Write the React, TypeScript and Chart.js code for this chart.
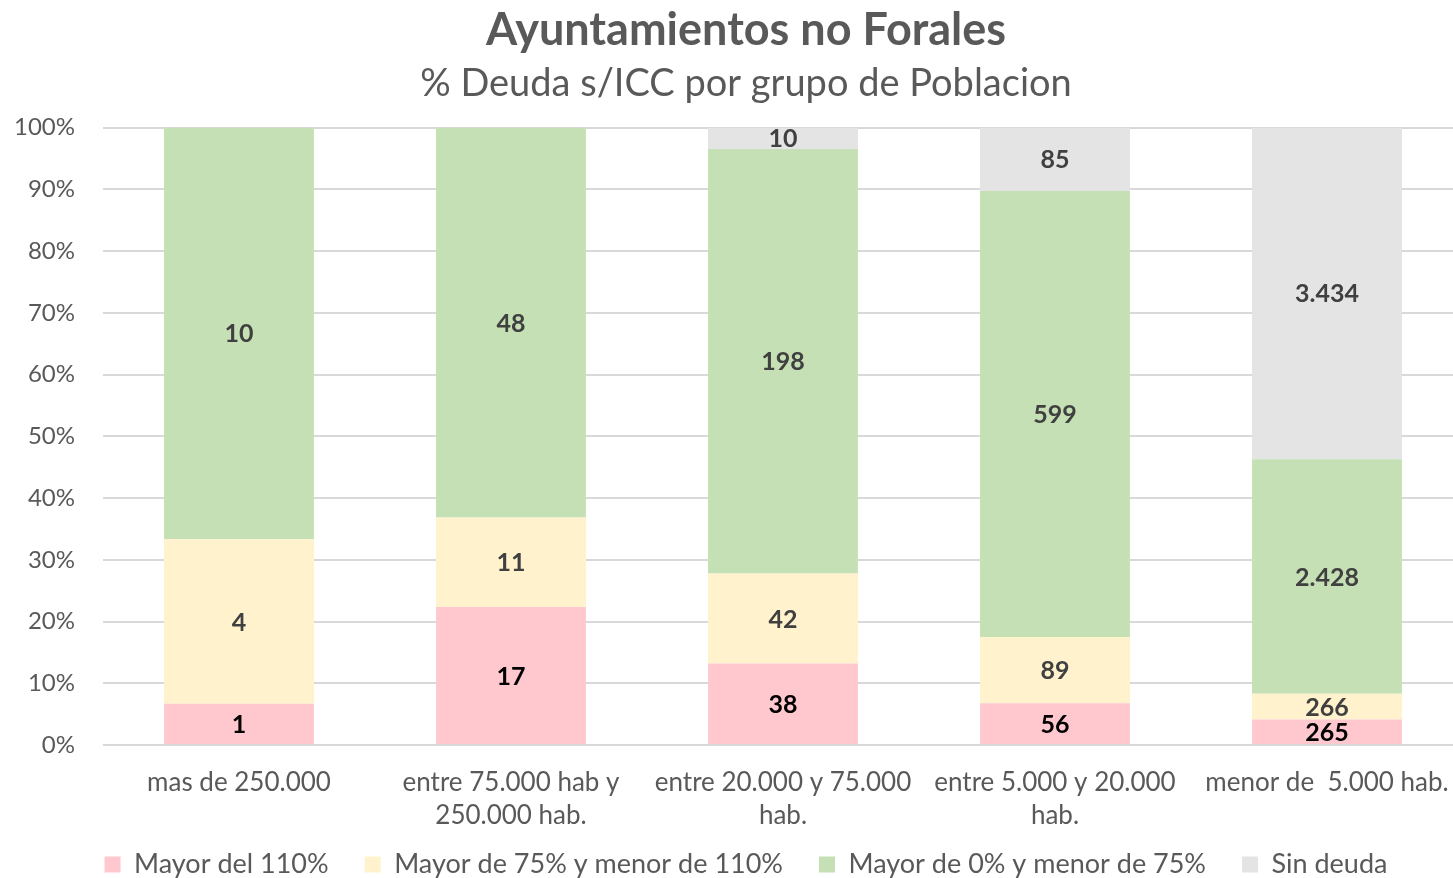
import React, { useEffect, useRef } from "react";
import { Chart, registerables } from "chart.js";

Chart.register(...registerables);

const categories: string[][] = [
  ["mas de 250.000"],
  ["entre 75.000 hab y", "250.000 hab."],
  ["entre 20.000 y 75.000", "hab."],
  ["entre 5.000 y 20.000", "hab."],
  ["menor de  5.000 hab."],
];
const seriesNames = [
  "Mayor del 110%",
  "Mayor de 75% y menor de 110%",
  "Mayor de 0% y menor de 75%",
  "Sin deuda",
];
const mayor110 = [1, 17, 38, 56, 265];
const mayor75 = [4, 11, 42, 89, 266];
const mayor0 = [10, 48, 198, 599, 2428];
const sinDeuda = [0, 0, 10, 85, 3434];
const seriesValues = [mayor110, mayor75, mayor0, sinDeuda];
const seriesColors = ["#FFC7CE", "#FFF2CC", "#C5E0B4", "#E4E4E4"];
const labelColors = ["#000000", "#404040", "#404040", "#404040"];
const yTickMax = 100;
const yTickStep = 10;

const FONT = "Lato, 'Open Sans', sans-serif";

const totals = categories.map((_, i) =>
  seriesValues.reduce((s, arr) => s + arr[i], 0)
);

const fmt = (v: number) =>
  String(v).replace(/\B(?=(\d{3})+(?!\d))/g, ".");

const valueLabels = {
  id: "valueLabels",
  afterDatasetsDraw(chart: any) {
    const ctx = chart.ctx;
    ctx.save();
    ctx.textAlign = "center";
    ctx.textBaseline = "middle";
    ctx.font = `bold 25px ${FONT}`;
    chart.data.datasets.forEach((ds: any, di: number) => {
      const meta = chart.getDatasetMeta(di);
      meta.data.forEach((el: any, i: number) => {
        const raw = ds.raw[i];
        if (!raw) return;
        const cy = (el.y + el.base) / 2;
        ctx.fillStyle = labelColors[di];
        ctx.fillText(fmt(raw), el.x, cy + 1);
      });
    });
    ctx.restore();
  },
};

// let axis labels draw outside their compact boxes (no clipping)
const extendLabelAreas = {
  id: "extendLabelAreas",
  afterLayout(chart: any) {
    const x = chart.scales.x;
    if (x) x.bottom = chart.height;
    const y = chart.scales.y;
    if (y) y.left = 0;
  },
};

export default function App() {
  const ref = useRef<HTMLCanvasElement>(null);
  useEffect(() => {
    if (!ref.current) return;
    const chart = new Chart(ref.current, {
      type: "bar",
      data: {
        labels: categories,
        datasets: seriesValues.map((arr, di) => ({
          label: seriesNames[di],
          data: arr.map((v, i) => (v / totals[i]) * 100),
          raw: arr,
          backgroundColor: seriesColors[di],
          borderWidth: 0,
          categoryPercentage: 1,
          barPercentage: 0.551,
        })) as any,
      },
      options: {
        responsive: false,
        animation: false,
        layout: { padding: { left: 29, right: 23, top: 0, bottom: -10 } },
        scales: {
          x: {
            stacked: true,
            grid: { display: false },
            border: { display: false },
            ticks: {
              color: "#595959",
              font: { family: FONT, size: 26, lineHeight: 1.27 },
              padding: 13,
              maxRotation: 0,
              autoSkip: false,
            },
            afterFit: (scale: any) => {
              scale.height = 70;
            },
          },
          y: {
            stacked: true,
            min: 0,
            max: yTickMax,
            ticks: {
              stepSize: yTickStep,
              color: "#595959",
              font: { family: FONT, size: 24 },
              padding: 28,
              callback: (v: any) => v + "%",
            },
            grid: { color: "#D9D9D9", lineWidth: 2, drawTicks: false },
            border: { display: false },
            afterFit: (scale: any) => {
              scale.width = 74;
            },
          },
        },
        plugins: {
          title: {
            display: true,
            text: "Ayuntamientos no Forales",
            color: "#595959",
            font: { family: FONT, size: 45, weight: "bold" },
            padding: { top: 3, bottom: 4 },
          },
          subtitle: {
            display: true,
            text: "% Deuda s/ICC por grupo de Poblacion",
            color: "#595959",
            font: { family: FONT, size: 38 },
            padding: { top: 0, bottom: 21 },
          },
          legend: {
            position: "bottom",
            labels: {
              color: "#595959",
              font: { family: FONT, size: 27 },
              boxWidth: 16,
              boxHeight: 16,
              padding: 36,
            },
          },
          tooltip: { enabled: false },
        },
      },
      plugins: [valueLabels, extendLabelAreas],
    } as any);
    return () => chart.destroy();
  }, []);
  return (
    <div
      style={{
        position: "fixed",
        left: 0,
        top: 0,
        width: 1453,
        height: 878,
        overflow: "hidden",
        background: "#fff",
      }}
    >
      <canvas ref={ref} width={1486} height={878} style={{ display: "block" }} />
    </div>
  );
}
